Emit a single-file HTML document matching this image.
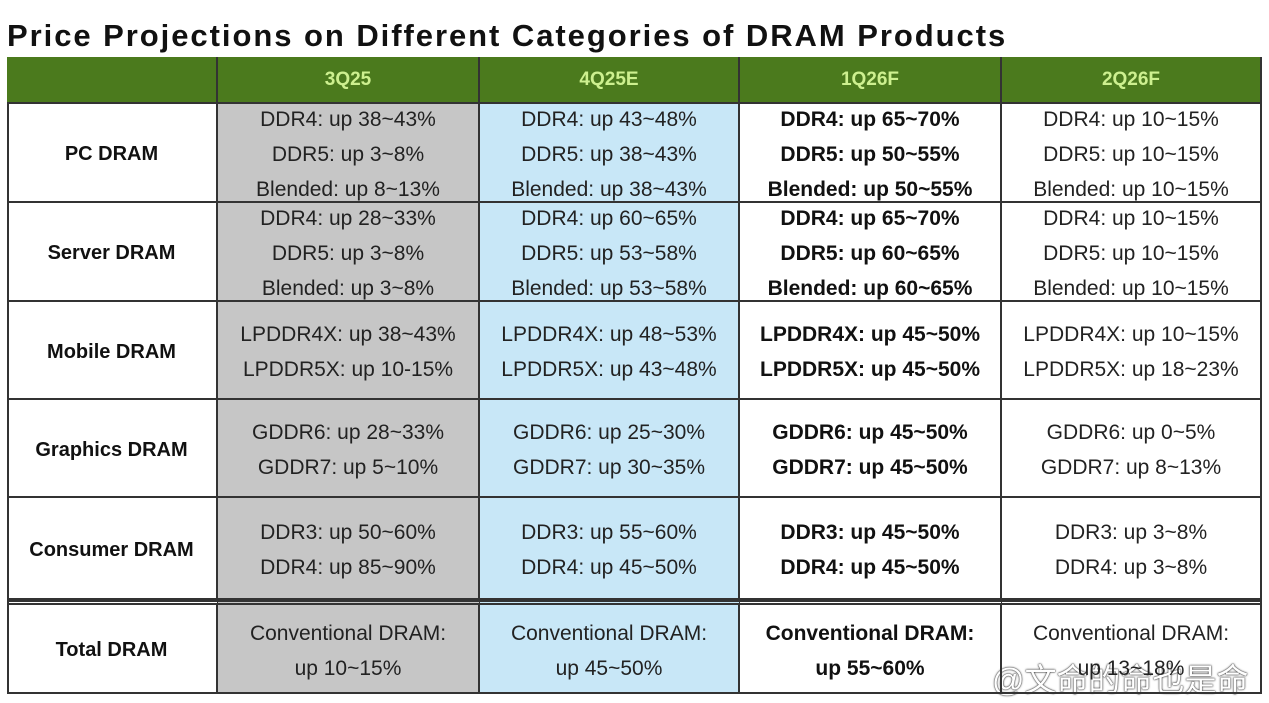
<!DOCTYPE html>
<html><head><meta charset="utf-8"><style>
body{margin:0;width:1269px;height:703px;background:#fff;position:relative;overflow:hidden;font-family:"Liberation Sans","Noto Sans CJK SC",sans-serif;color:#222}
.t{position:absolute;left:7px;top:18px;font-size:31px;font-weight:bold;color:#111;letter-spacing:1.95px}
.c{position:absolute;box-sizing:border-box;display:flex;flex-direction:column;justify-content:center;align-items:center;text-align:center;font-size:21px;line-height:35px;padding-top:4px;border-right:2px solid #333;border-bottom:2px solid #333}
.h{background:#4b7a1d;color:#cdf08f;font-weight:bold;font-size:19px;padding-top:0}
.g{background:#c6c6c6}.b{background:#c8e7f7}.k{font-weight:bold;color:#111}
.r{font-weight:bold;color:#111;font-size:20px}
.wm{position:absolute;left:992px;top:655px;font-size:32px;color:#fff;text-shadow:0 0 2px #333,0 0 1px #000}
</style></head><body>
<div class="t">Price Projections on Different Categories of DRAM Products</div>
<div id="tbl" style="position:absolute;left:7px;top:57px;width:1255px;height:637px;border:2px solid #333;box-sizing:border-box"></div>
<div class="wm">@文命的命也是命</div>
<script>
const cols=[7,218,480,740,1002,1262];
const rows=[57,104,203,302,400,498,600,694];
const headers=["","3Q25","4Q25E","1Q26F","2Q26F"];
const cats=["PC DRAM","Server DRAM","Mobile DRAM","Graphics DRAM","Consumer DRAM","Total DRAM"];
const q3=[["DDR4: up 38~43%","DDR5: up 3~8%","Blended: up 8~13%"],["DDR4: up 28~33%","DDR5: up 3~8%","Blended: up 3~8%"],["LPDDR4X: up 38~43%","LPDDR5X: up 10-15%"],["GDDR6: up 28~33%","GDDR7: up 5~10%"],["DDR3: up 50~60%","DDR4: up 85~90%"],["Conventional DRAM:","up 10~15%"]];
const q4=[["DDR4: up 43~48%","DDR5: up 38~43%","Blended: up 38~43%"],["DDR4: up 60~65%","DDR5: up 53~58%","Blended: up 53~58%"],["LPDDR4X: up 48~53%","LPDDR5X: up 43~48%"],["GDDR6: up 25~30%","GDDR7: up 30~35%"],["DDR3: up 55~60%","DDR4: up 45~50%"],["Conventional DRAM:","up 45~50%"]];
const q1=[["DDR4: up 65~70%","DDR5: up 50~55%","Blended: up 50~55%"],["DDR4: up 65~70%","DDR5: up 60~65%","Blended: up 60~65%"],["LPDDR4X: up 45~50%","LPDDR5X: up 45~50%"],["GDDR6: up 45~50%","GDDR7: up 45~50%"],["DDR3: up 45~50%","DDR4: up 45~50%"],["Conventional DRAM:","up 55~60%"]];
const q2=[["DDR4: up 10~15%","DDR5: up 10~15%","Blended: up 10~15%"],["DDR4: up 10~15%","DDR5: up 10~15%","Blended: up 10~15%"],["LPDDR4X: up 10~15%","LPDDR5X: up 18~23%"],["GDDR6: up 0~5%","GDDR7: up 8~13%"],["DDR3: up 3~8%","DDR4: up 3~8%"],["Conventional DRAM:","up 13~18%"]];
const cls=["r","g","b","k",""];
const data=[null,q3,q4,q1,q2];
function cell(x0,x1,y0,y1,c){const d=document.createElement('div');d.className='c '+c;d.style.left=x0+'px';d.style.top=y0+'px';d.style.width=(x1-x0)+'px';d.style.height=(y1-y0)+'px';document.body.appendChild(d);return d;}
headers.forEach((h,i)=>{const d=cell(cols[i],cols[i+1],rows[0],rows[1],'h');d.textContent=h;

});
cats.forEach((cat,r)=>{for(let i=0;i<5;i++){const d=cell(cols[i],cols[i+1],rows[r+1],rows[r+2],cls[i]);
if(r===5){d.style.borderTop='5px double #333';}
if(i===0){d.textContent=cat;}else{data[i][r].forEach(l=>{const s=document.createElement('div');s.textContent=l;d.appendChild(s);});}

}});
</script>
</body></html>
